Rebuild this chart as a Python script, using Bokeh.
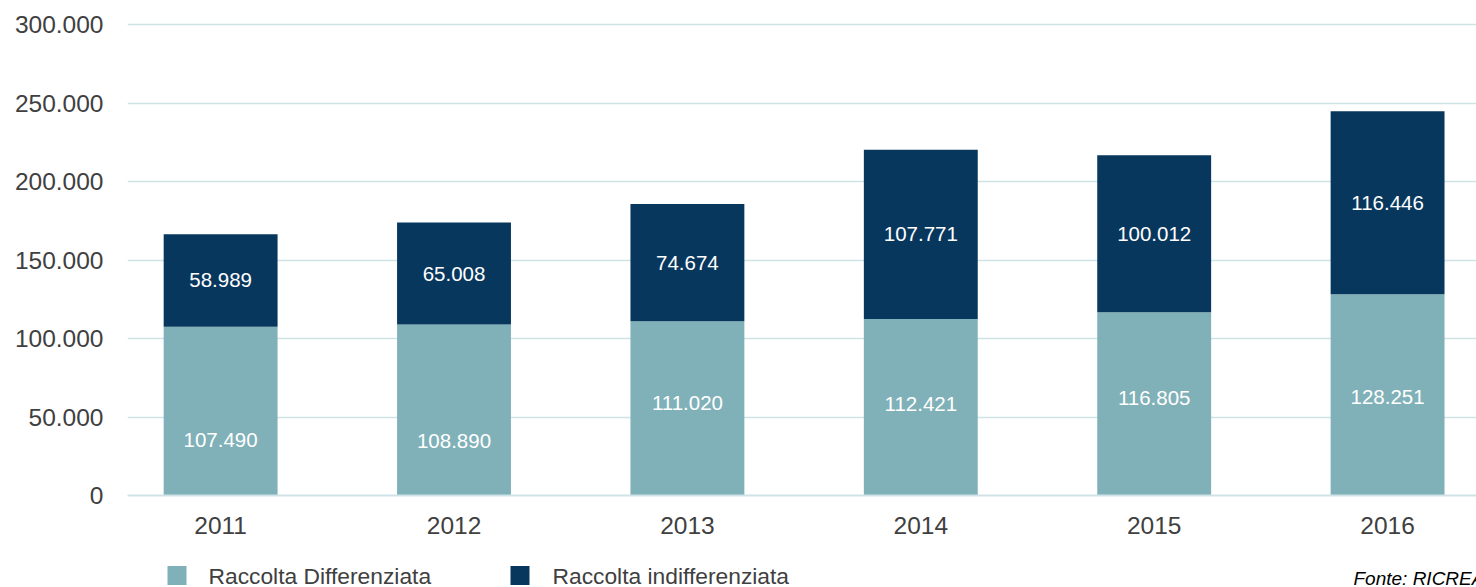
from bokeh.plotting import figure
from bokeh.layouts import column
from bokeh.models import ColumnDataSource, Range1d, FixedTicker, LabelSet
from bokeh.core.properties import value
from bokeh.embed import file_html
from bokeh.resources import INLINE

# Raccolta rifiuti per anno (tonnellate)
years = ["2011", "2012", "2013", "2014", "2015", "2016"]
differenziata = [107490, 108890, 111020, 112421, 116805, 128251]
indifferenziata = [58989, 65008, 74674, 107771, 100012, 116446]
y_ticks = [0, 50000, 100000, 150000, 200000, 250000, 300000]
series_names = ["Raccolta Differenziata", "Raccolta indifferenziata"]
source_note = "Fonte: RICREA"

# vertical placement of the lower labels, as a share of the segment height
low_label_share = [0.33, 0.32, 0.53, 0.52, 0.53, 0.49]

TEAL = "#80b1b8"
NAVY = "#08375e"
GRID = "#cfe2e6"
TXT = "#404040"
FONT = "Liberation Sans"


def it_num(v):
    return f"{v:,}".replace(",", ".")


xs = list(range(len(years)))
totals = [a + b for a, b in zip(differenziata, indifferenziata)]
src = ColumnDataSource(dict(
    x=xs,
    diff=differenziata,
    indiff=indifferenziata,
    total=totals,
    zero=[0] * len(xs),
    low_y=[d * s for d, s in zip(differenziata, low_label_share)],
    high_y=[d + i / 2 for d, i in zip(differenziata, indifferenziata)],
    low_txt=[it_num(v) for v in differenziata],
    high_txt=[it_num(v) for v in indifferenziata],
))

p = figure(width=1476, height=550, output_backend="svg", toolbar_location=None,
           x_range=Range1d(-0.399, 5.381), y_range=Range1d(0, 301300),
           min_border_left=127, min_border_right=0, min_border_top=22,
           min_border_bottom=55, outline_line_color=None)

p.vbar(x="x", bottom="zero", top="diff", width=0.488, source=src,
       fill_color=TEAL, line_color=None)
p.vbar(x="x", bottom="diff", top="total", width=0.488, source=src,
       fill_color=NAVY, line_color=None)

for col_y, col_t in (("low_y", "low_txt"), ("high_y", "high_txt")):
    p.add_layout(LabelSet(x="x", y=col_y, text=col_t, source=src,
                          text_color="white", text_font=value(FONT),
                          text_font_size="20.5px",
                          text_align="center", text_baseline="middle"))

# axes
p.yaxis.ticker = FixedTicker(ticks=y_ticks)
p.yaxis.major_label_overrides = {t: it_num(t) for t in y_ticks}
p.yaxis.axis_line_color = None
p.yaxis.major_tick_line_color = None
p.yaxis.minor_tick_line_color = None
p.yaxis.major_label_standoff = 18
p.yaxis.major_label_text_font = FONT
p.yaxis.major_label_text_font_size = "24.5px"
p.yaxis.major_label_text_color = TXT

p.xaxis.ticker = FixedTicker(ticks=xs)
p.xaxis.major_label_overrides = {i: y for i, y in zip(xs, years)}
p.xaxis.axis_line_color = GRID
p.xaxis.axis_line_width = 2
p.xaxis.major_tick_line_color = None
p.xaxis.minor_tick_line_color = None
p.xaxis.major_label_standoff = 15
p.xaxis.major_label_text_font = FONT
p.xaxis.major_label_text_font_size = "24.5px"
p.xaxis.major_label_text_color = TXT

p.xgrid.grid_line_color = None
p.ygrid.grid_line_color = GRID
p.ygrid.grid_line_width = 1.5

# legend strip and source note; its frame lines up with the chart frame
# (x from 127 to 1476), so one data unit is one pixel of the page
foot = figure(width=1476, height=37, output_backend="svg", toolbar_location=None,
              x_range=Range1d(127, 1476), y_range=Range1d(0, 37),
              min_border_left=127, min_border_right=0, min_border_top=0,
              min_border_bottom=0, outline_line_color=None)
foot.axis.visible = False
foot.grid.visible = False

key_src = ColumnDataSource(dict(
    sx=[176.5, 519.5],
    tx=[208, 552],
    y=[12, 12],
    color=[TEAL, NAVY],
    name=series_names,
))
foot.rect(x="sx", y="y", width=19, height=19, fill_color="color",
          line_color=None, source=key_src)
foot.text(x="tx", y="y", text="name", source=key_src, text_font=value(FONT),
          text_font_size="22.8px", text_color=TXT, text_baseline="middle")
foot.text(x=[1353], y=[9], text=[source_note], text_font=value(FONT),
          text_font_style="italic", text_font_size="19px", text_color="black",
          text_baseline="middle")

open("out.html", "w").write(file_html(column(p, foot, spacing=0), INLINE))
